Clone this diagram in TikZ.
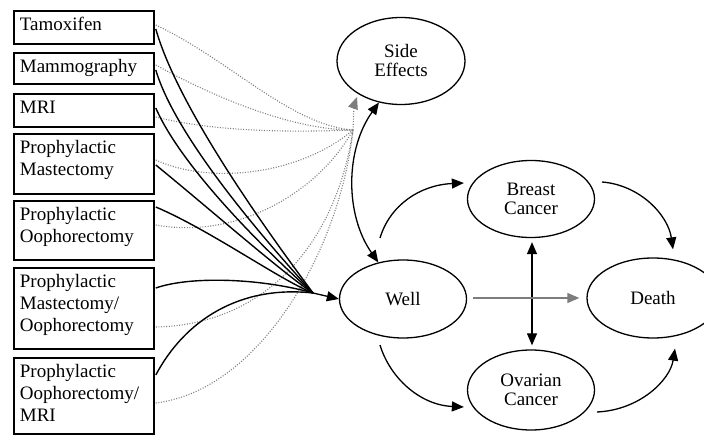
\documentclass[tikz,border=0pt]{standalone}
\usepackage{fontspec}
\setmainfont{Liberation Serif}
\usetikzlibrary{shapes.geometric,arrows.meta,calc}
\definecolor{dotgray}{RGB}{125,125,125}
\begin{document}
\begin{tikzpicture}[x=1pt,y=-1pt,
  every node/.style={font=\fontsize{19}{22}\selectfont},
  boxnode/.style={draw, line width=1.8pt, rectangle, anchor=north west, inner xsep=6pt, inner ysep=4pt},
  statenode/.style={draw, line width=1.3pt, ellipse, inner sep=0pt, align=center, font=\fontsize{19}{19}\selectfont},
  blk/.style={line width=1.4pt},
  arr/.style={line width=1.3pt, -{Triangle[length=12pt,width=10pt]}},
  darr/.style={line width=1.3pt, {Triangle[length=12pt,width=10pt]}-{Triangle[length=12pt,width=10pt]}},
  dots/.style={dotgray, line width=1.1pt, dash pattern=on 1pt off 1.6pt},
  grayarr/.style={dotgray, line width=1.3pt, -{Triangle[length=12pt,width=10pt]}}
]
\useasboundingbox (0,0) rectangle (704,435);
\newcommand{\bx}[2]{\parbox[t][#1][t]{128pt}{\strut #2}}
% boxes
\node[boxnode] (tam) at (13,10) {\bx{25pt}{Tamoxifen}};
\node[boxnode] (mam) at (13,52) {\bx{23pt}{Mammography}};
\node[boxnode] (mri) at (13,93) {\bx{25pt}{MRI}};
\node[boxnode] (pm) at (13,133) {\bx{52pt}{Prophylactic\\Mastectomy}};
\node[boxnode] (po) at (13,200) {\bx{51pt}{Prophylactic\\Oophorectomy}};
\node[boxnode] (pmo) at (13,267) {\bx{73pt}{Prophylactic\\Mastectomy/\\Oophorectomy}};
\node[boxnode] (pom) at (13,357) {\bx{68pt}{Prophylactic\\Oophorectomy/\\MRI}};
% states
\node[statenode, minimum width=128pt, minimum height=87pt] (side) at (401,61) {Side\\Effects};
\node[statenode, minimum width=127pt, minimum height=77pt] (breast) at (531,199) {Breast\\Cancer};
\node[statenode, minimum width=127pt, minimum height=78pt] (well) at (403,299) {Well};
\node[statenode, minimum width=132pt, minimum height=80pt] (death) at (653,298) {Death};
\node[statenode, minimum width=127pt, minimum height=80pt] (ovarian) at (531,390) {Ovarian\\Cancer};
% convergence points
\coordinate (c1) at ($(side)+(-48,69)$);
\coordinate (c2) at ($(well)+(-90,-6)$);
% dotted lines to side effects
\draw[dots] ($(tam.north east)+(1,15)$) .. controls (230,60) and (290,125) .. (c1);
\draw[dots] ($(mam.north east)+(1,13)$) .. controls (210,95) and (290,130) .. (c1);
\draw[dots] ($(mri.north east)+(1,24)$) .. controls (220,133) and (300,132) .. (c1);
\draw[dots] ($(pm.north east)+(1,27)$) .. controls (210,185) and (300,175) .. (c1);
\draw[dots] ($(po.north east)+(1,25)$) .. controls (240,240) and (320,190) .. (c1);
\draw[dots] ($(pmo.north east)+(1,60)$) .. controls (260,325) and (335,250) .. (c1);
\draw[dots] ($(pom.north east)+(1,46)$) .. controls (260,390) and (340,250) .. (c1);
\draw[dots] (c1) -- ($(side)+(-47,44)$);
\draw[dotgray, line width=1pt, -{Triangle[length=12pt,width=10pt]}] ($(side)+(-46.5,43)$) -- ($(side)+(-44,36)$);
% black lines to well
\draw[blk] ($(tam.north east)+(1,19)$) .. controls (180,115) and (285,255) .. (c2);
\draw[blk] ($(mam.north east)+(1,18)$) .. controls (178,145) and (285,262) .. (c2);
\draw[blk] ($(mri.north east)+(1,15)$) .. controls (185,175) and (285,268) .. (c2);
\draw[blk] ($(pm.north east)+(1,32)$) .. controls (205,205) and (285,275) .. (c2);
\draw[blk] ($(po.north east)+(1,7)$) .. controls (210,230) and (280,280) .. (c2);
\draw[blk] ($(pmo.north east)+(1,21)$) .. controls (190,276) and (260,278) .. (c2);
\draw[blk] ($(pom.north east)+(1,18)$) .. controls (185,320) and (240,285) .. (c2);
\draw[arr] (c2) -- (well.west);
% state transitions
\draw[darr] (well.124) .. controls (345,215) and (345,150) .. (side.-118);
\draw[arr] ($(well)+(-23,-61)$) .. controls (390,205) and (420,185) .. ($(breast.west)+(-3,-16)$);
\draw[arr] ($(well)+(-23,46)$) .. controls (390,378) and (420,405) .. ($(ovarian.west)+(-3,17)$);
\draw[arr] ($(breast)+(71,-17)$) .. controls (640,185) and (668,215) .. ($(death.north)+(20,-8)$);
\draw[arr] ($(ovarian)+(66,22)$) .. controls (640,410) and (670,380) .. ($(death.south)+(22,10)$);
\draw[darr] ($(breast.south)+(1,4)$) -- ($(ovarian.north)+(1,-4)$);
\draw[grayarr] ($(well.east)+(6,-1)$) -- ($(death.west)+(-7,0)$);
\end{tikzpicture}
\end{document}
